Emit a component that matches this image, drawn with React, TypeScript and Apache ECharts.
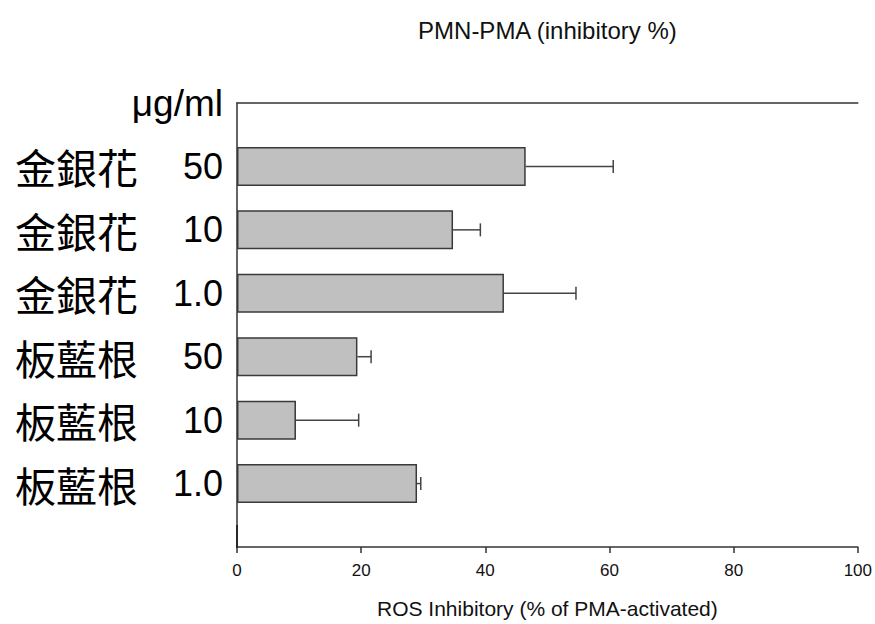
import React, { useEffect, useRef } from "react";
import * as echarts from "echarts";

const herbs = ["金銀花", "金銀花", "金銀花", "板藍根", "板藍根", "板藍根"];
const doses = ["50", "10", "1.0", "50", "10", "1.0"];
const values = [46.5, 34.8, 43.0, 19.4, 9.5, 29.0];
const errorUpper = [60.6, 39.2, 54.6, 21.6, 19.6, 29.6];
const unitLabel = "μg/ml";
const xMin = 0;
const xMax = 100;
const xInterval = 20;
const chartTitle = "PMN-PMA (inhibitory %)";
const xAxisName = "ROS Inhibitory (% of PMA-activated)";

const LATIN = "'Liberation Sans', Arial, sans-serif";
const CJK = "'Noto Sans CJK TC', 'Noto Sans CJK SC', sans-serif";
const LINE = "#333333";

export default function App() {
  const ref = useRef<HTMLDivElement>(null);

  useEffect(() => {
    if (!ref.current) return;
    const chart = echarts.init(ref.current, undefined, { renderer: "svg" });

    const yCategories = [unitLabel, ...herbs.map((h, i) => h + " " + doses[i]), ""];
    const barData = values.map((v, i) => [v, i + 1]);
    const errData = values.map((v, i) => [v, errorUpper[i], i + 1]);

    chart.setOption({
      animation: false,
      backgroundColor: "#ffffff",
      grid: { left: 237, right: 17, top: 103, bottom: 72, containLabel: false },
      xAxis: [
        {
          type: "value",
          position: "bottom",
          min: xMin,
          max: xMax,
          interval: xInterval,
          name: xAxisName,
          nameLocation: "middle",
          nameGap: 51,
          nameTextStyle: { fontFamily: LATIN, fontSize: 21, color: "#111" },
          axisLine: { show: true, lineStyle: { color: LINE, width: 1.5 } },
          axisTick: { show: true, inside: false, length: 6, lineStyle: { color: LINE, width: 1.5 } },
          axisLabel: { fontFamily: LATIN, fontSize: 17, color: "#111", margin: 15 },
          splitLine: { show: false },
        },
        {
          type: "value",
          position: "top",
          min: xMin,
          max: xMax,
          interval: xInterval,
          name: chartTitle,
          nameLocation: "middle",
          nameGap: 61,
          nameTextStyle: { fontFamily: LATIN, fontSize: 24, color: "#111" },
          axisLine: { show: true, lineStyle: { color: LINE, width: 1.5 } },
          axisTick: { show: false },
          axisLabel: { show: false },
          splitLine: { show: false },
        },
      ],
      yAxis: [
        {
          type: "category",
          inverse: true,
          boundaryGap: false,
          data: yCategories,
          axisLine: { show: false },
          axisTick: { show: false },
          splitLine: { show: false },
          axisLabel: {
            margin: 14,
            interval: 0,
            formatter: (val: string, idx: number) => {
              if (idx === 0) return `{u|${val}}`;
              if (val === "") return "";
              return `{zh|${herbs[idx - 1]}}{num|${doses[idx - 1]}}`;
            },
            rich: {
              u: { fontFamily: LATIN, fontSize: 37, color: "#000", verticalAlign: "middle" },
              zh: { fontFamily: CJK, fontSize: 41, color: "#000", width: 128, align: "left", verticalAlign: "middle" },
              num: { fontFamily: LATIN, fontSize: 36, color: "#000", width: 80, align: "right", verticalAlign: "middle" },
            },
          },
        },
        {
          type: "category",
          inverse: true,
          boundaryGap: false,
          position: "right",
          data: yCategories,
          axisLine: { show: true, lineStyle: { color: LINE, width: 1.5 } },
          axisTick: { show: false },
          axisLabel: { show: false },
          splitLine: { show: false },
        },
      ],
      series: [
        {
          type: "bar",
          xAxisIndex: 0,
          yAxisIndex: 0,
          data: barData,
          encode: { x: 0, y: 1 },
          barWidth: 39,
          itemStyle: { color: "#c0c0c0", borderColor: "#3a3a3a", borderWidth: 1.5 },
          z: 2,
        },
        {
          type: "custom",
          xAxisIndex: 0,
          yAxisIndex: 0,
          data: errData,
          encode: { x: [0, 1], y: 2 },
          z: 3,
          renderItem: (params: any, api: any) => {
            const cat = api.value(2);
            const s = api.coord([api.value(0), cat]);
            const e = api.coord([api.value(1), cat]);
            const h = 6.5;
            return {
              type: "group",
              children: [
                { type: "line", shape: { x1: s[0], y1: s[1], x2: e[0], y2: e[1] }, style: { stroke: "#444", lineWidth: 1.5 } },
                { type: "line", shape: { x1: e[0], y1: e[1] - h, x2: e[0], y2: e[1] + h }, style: { stroke: "#444", lineWidth: 1.5 } },
              ],
            };
          },
        },
      ],
    });

    // left axis stub near the bottom (decorative frame piece)
    const x0 = chart.convertToPixel({ xAxisIndex: 0 }, xMin) as number;
    const yBottom = chart.convertToPixel({ yAxisIndex: 0 }, yCategories.length - 1) as number;
    chart.setOption({
      graphic: [
        {
          type: "line",
          shape: { x1: x0, y1: yBottom - 22, x2: x0, y2: yBottom + 1 },
          style: { stroke: "#222", lineWidth: 1.8 },
          z: 10,
        },
      ],
    });

    return () => chart.dispose();
  }, []);

  return (
    <div
      ref={ref}
      style={{ position: "absolute", left: 0, top: 0, width: 875, height: 624, background: "#fff" }}
    />
  );
}
